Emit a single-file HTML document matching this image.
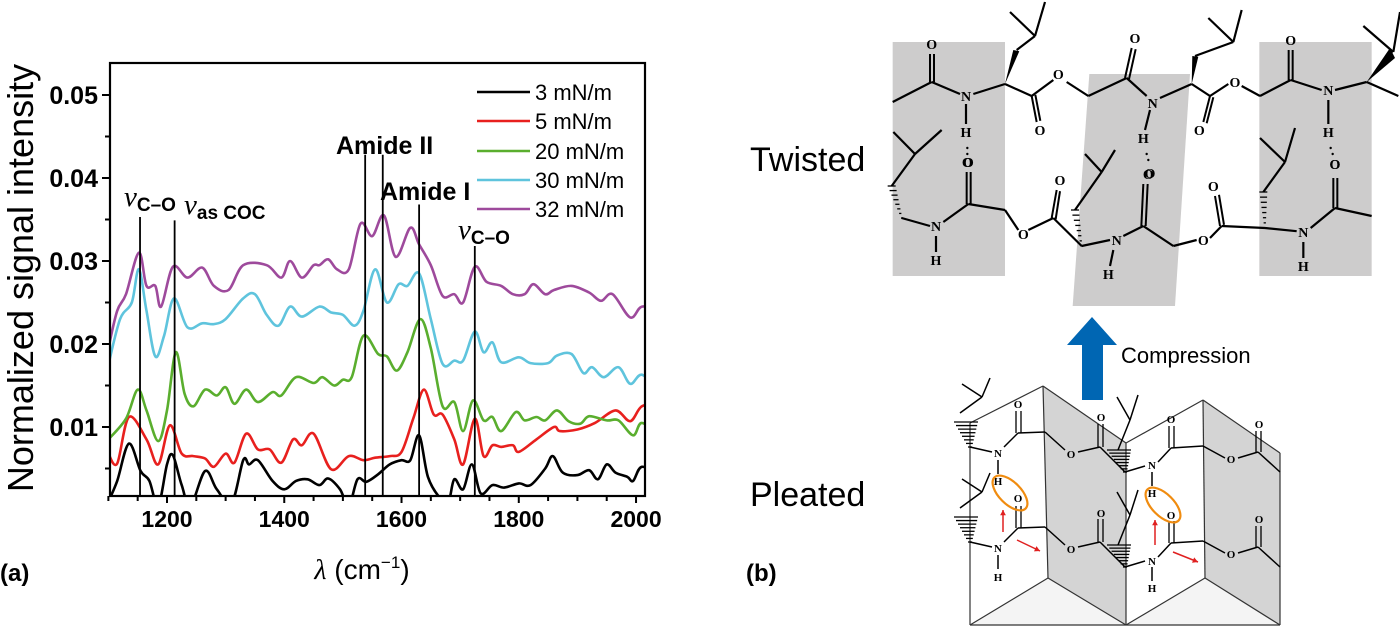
<!DOCTYPE html>
<html><head><meta charset="utf-8">
<style>
html,body{margin:0;padding:0;background:#fff;}
svg{display:block;font-family:"Liberation Sans",sans-serif;}
</style></head>
<body>
<svg id="fig" width="1400" height="627" viewBox="0 0 1400 627" xmlns="http://www.w3.org/2000/svg">
<defs><clipPath id="plotclip"><rect x="110" y="63" width="535" height="433"/></clipPath></defs>
<g id="chart"></g>
<g id="scheme"></g>
<text x="0" y="581" font-size="24" font-weight="bold">(a)</text>
<text x="746" y="581" font-size="24" font-weight="bold">(b)</text>
<text x="750" y="171" font-size="34">Twisted</text>
<text x="750" y="506" font-size="34">Pleated</text>
<text x="1121" y="363" font-size="22">Compression</text>
</svg>
<script>
// ---- chart data ----
const wn3=[1100,1115,1135,1155,1170,1185,1200,1210,1225,1240,1265,1285,1310,1330,1340,1355,1380,1400,1420,1440,1460,1475,1495,1510,1525,1540,1560,1580,1600,1615,1630,1645,1665,1680,1690,1705,1720,1735,1755,1775,1800,1820,1845,1858,1875,1900,1920,1935,1950,1965,1985,1995,2010,2040];
const val3=[0.001,0.0035,0.008,0.0047,0.0035,0.0005,0.0055,0.0066,0.003,0.0005,0.0047,0.0025,0.0008,0.006,0.0055,0.006,0.0035,0.0025,0.0035,0.0037,0.003,0.0038,0.0025,0.0005,0.0037,0.0034,0.0043,0.0055,0.006,0.006,0.009,0.004,0.0015,0.001,0.0037,0.0025,0.0055,0.002,0.003,0.0027,0.0032,0.003,0.005,0.0065,0.0045,0.0042,0.0048,0.0037,0.0055,0.0045,0.004,0.0035,0.0052,0.004];
const wn5=[1100,1115,1135,1165,1185,1205,1225,1245,1265,1280,1300,1315,1335,1355,1375,1395,1415,1430,1450,1480,1510,1535,1555,1580,1600,1620,1638,1655,1670,1690,1705,1725,1740,1755,1770,1790,1800,1830,1860,1870,1900,1930,1965,1990,2010,2040];
const val5=[0.0068,0.0056,0.0112,0.0085,0.0055,0.0102,0.0068,0.0065,0.0062,0.0052,0.0068,0.0057,0.0092,0.0073,0.0073,0.0057,0.0085,0.0078,0.0092,0.0049,0.0065,0.006,0.0063,0.0065,0.007,0.011,0.0145,0.0115,0.0115,0.0085,0.0055,0.011,0.0065,0.0078,0.0076,0.0078,0.007,0.0085,0.010,0.0095,0.0097,0.0105,0.012,0.0107,0.0125,0.0128];
const wn20=[1100,1130,1150,1165,1185,1200,1215,1230,1245,1265,1285,1300,1315,1335,1355,1380,1395,1420,1450,1465,1485,1500,1515,1535,1560,1575,1592,1610,1632,1650,1670,1690,1705,1722,1740,1755,1770,1795,1810,1830,1845,1865,1885,1905,1920,1950,1970,1995,2010,2040];
const val20=[0.0085,0.011,0.0145,0.012,0.0083,0.012,0.019,0.014,0.0125,0.0145,0.0138,0.0148,0.0128,0.0145,0.013,0.0142,0.0138,0.016,0.0153,0.016,0.015,0.0157,0.016,0.021,0.0188,0.0185,0.0168,0.019,0.023,0.0195,0.0125,0.013,0.0095,0.0132,0.0108,0.0112,0.0095,0.0118,0.0108,0.0112,0.0108,0.012,0.0107,0.0104,0.0113,0.0108,0.0108,0.009,0.0105,0.0088];
const wn30=[1100,1120,1140,1152,1165,1180,1195,1212,1235,1260,1280,1300,1330,1350,1370,1390,1410,1430,1460,1480,1500,1520,1535,1555,1575,1595,1610,1630,1650,1670,1690,1705,1725,1740,1755,1770,1800,1820,1850,1865,1890,1910,1925,1945,1970,1990,2010,2040];
const val30=[0.0175,0.023,0.025,0.029,0.024,0.0185,0.021,0.0255,0.022,0.0225,0.0224,0.023,0.0255,0.026,0.0235,0.0222,0.0245,0.0233,0.0245,0.0238,0.0235,0.0222,0.024,0.029,0.025,0.0272,0.027,0.0285,0.023,0.0176,0.018,0.018,0.0215,0.019,0.0202,0.0178,0.0184,0.0177,0.0177,0.0186,0.0188,0.0165,0.0172,0.016,0.0172,0.0152,0.0163,0.0145];
const wn32=[1100,1115,1130,1152,1165,1180,1190,1210,1235,1260,1280,1305,1330,1370,1395,1410,1430,1450,1460,1475,1490,1510,1530,1550,1570,1590,1615,1630,1650,1670,1690,1705,1725,1745,1770,1790,1810,1825,1845,1860,1890,1920,1940,1960,1990,2010,2040];
const val32=[0.0195,0.024,0.026,0.031,0.027,0.027,0.0245,0.0293,0.028,0.0292,0.027,0.0265,0.0295,0.0295,0.028,0.030,0.028,0.0295,0.0295,0.0302,0.029,0.029,0.0345,0.033,0.0355,0.0305,0.034,0.032,0.0295,0.0258,0.026,0.025,0.0293,0.0275,0.027,0.026,0.026,0.0272,0.026,0.0265,0.027,0.0262,0.0252,0.026,0.0232,0.0245,0.024];
const seriesNames=["3 mN/m","5 mN/m","20 mN/m","30 mN/m","32 mN/m"];
const xTicks=[1200,1400,1600,1800,2000];
const yTicks=[0.01,0.02,0.03,0.04,0.05];
const markerWn=[1154,1213,1538,1568,1630,1725];
const markerTop=[0.0353,0.0349,0.0428,0.0428,0.0368,0.0318];

const NS="http://www.w3.org/2000/svg";
const X0=110,X1=645,Y0=63,Y1=496;
function xs(v){return 167+(v-1200)*0.5863;}
function ys(v){return 427-(v-0.01)*8300;}
function mk(tag,attrs,parent,txt){const e=document.createElementNS(NS,tag);for(const k in attrs)e.setAttribute(k,attrs[k]);if(txt!==undefined)e.textContent=txt;parent.appendChild(e);return e;}
const chart=document.getElementById('chart');

function smooth(wn,val){
  const p=wn.map((w,i)=>[xs(w),ys(val[i])]);
  let d="M"+p[0][0].toFixed(1)+","+p[0][1].toFixed(1);
  for(let i=0;i<p.length-1;i++){
    const a=p[Math.max(0,i-1)],b=p[i],c=p[i+1],e=p[Math.min(p.length-1,i+2)];
    const c1=[b[0]+(c[0]-a[0])/6,b[1]+(c[1]-a[1])/6],c2=[c[0]-(e[0]-b[0])/6,c[1]-(e[1]-b[1])/6];
    d+="C"+c1[0].toFixed(1)+","+c1[1].toFixed(1)+" "+c2[0].toFixed(1)+","+c2[1].toFixed(1)+" "+c[0].toFixed(1)+","+c[1].toFixed(1);
  }
  return d;
}
const colors=["#000000","#e8201e","#5aae2e","#5fc4dd","#9e4a9c"];
const allWn=[wn3,wn5,wn20,wn30,wn32],allVal=[val3,val5,val20,val30,val32];
const lines=mk('g',{'clip-path':'url(#plotclip)'},chart);


for(let s=0;s<5;s++){
  const p=mk('path',{d:smooth(allWn[s],allVal[s]),fill:'none',stroke:colors[s],'stroke-width':2.6,'stroke-linejoin':'round'},lines);
  
  
}
for(let i=0;i<markerWn.length;i++){
  const l=mk('line',{x1:xs(markerWn[i]),x2:xs(markerWn[i]),y1:ys(markerTop[i]),y2:Y1,stroke:'#000','stroke-width':1.8},chart);
  
  
}
const fr=mk('rect',{x:X0,y:Y0,width:X1-X0,height:Y1-Y0,fill:'none',stroke:'#000','stroke-width':2.2},chart);


for(let v=1100;v<=2000;v+=50){
  const t=mk('line',{x1:xs(v),x2:xs(v),y1:Y1,y2:Y1+(v%200===0?7:5),stroke:'#000','stroke-width':2},chart);
  
  
}
xTicks.forEach(v=>{
  const t=mk('text',{x:xs(v),y:Y1+31,'font-size':23,'font-weight':'bold','text-anchor':'middle'},chart,String(v));
  
  
});
for(let k=1;k<=10;k++){
  const v=k*0.005;
  const t=mk('line',{x1:X0-(k%2===0?8:5),x2:X0,y1:ys(v),y2:ys(v),stroke:'#000','stroke-width':2},chart);
  
  
}
yTicks.forEach(v=>{
  const t=mk('text',{x:X0-12,y:ys(v)+9,'font-size':25,'font-weight':'bold','text-anchor':'end'},chart,v.toFixed(2));
  
  
});
const yt=mk('text',{x:0,y:0,'font-size':36,'text-anchor':'middle',transform:'translate(33,278) rotate(-90)'},chart,'Normalized signal intensity');


const xt=mk('text',{x:362,y:579,'font-size':28,'text-anchor':'middle'},chart);


mk('tspan',{'font-family':'Liberation Serif,serif','font-style':'italic'},xt,'λ');
mk('tspan',{},xt,' (cm');
mk('tspan',{'font-size':17,dy:-11},xt,'−1');
mk('tspan',{dy:11},xt,')');
const lg=mk('g',{},chart);


const lgY=[92,121,151,180,209];
for(let s=0;s<5;s++){
  const e=mk('g',{},lg);
  
  
  mk('line',{x1:477,x2:530,y1:lgY[s],y2:lgY[s],stroke:colors[s],'stroke-width':2.6},e);
  mk('text',{x:535,y:lgY[s]+8,'font-size':22},e,seriesNames[s]);
}
function ann(x,y,txt,name){const t=mk('text',{x:x,y:y,'font-size':25,'font-weight':'bold'},chart,txt);}
ann(336,154,'Amide II','amide-ii-label');
ann(380,200,'Amide I','amide-i-label');
function nu(x,y,sub,name){
  const t=mk('text',{x:x,y:y,'font-size':29},chart);
  
  
  mk('tspan',{'font-family':'Liberation Serif,serif','font-style':'italic'},t,'ν');
  mk('tspan',{'font-size':19,'font-weight':'bold',dy:5},t,sub);
}
nu(124,206,'C–O','nu-co-label-1');
nu(184,214,'as COC','nu-as-coc-label');
nu(458,239,'C–O','nu-co-label-2');

// ---- scheme (twisted) ----
const sc=document.getElementById('scheme');
function TX(x){return 880+x/3;} function TY(y){return y*0.4;}
const tw=mk('g',{},sc);


[[38,105,375,105,375,690,38,690],[628,185,930,185,885,765,578,765],[1138,105,1475,105,1475,690,1138,690]].forEach(r=>{
  const pts=[];for(let i=0;i<8;i+=2)pts.push(TX(r[i])+','+TY(r[i+1]));
  mk('polygon',{points:pts.join(' '),fill:'#cdcccc'},tw);
});
const twBonds=[[38,255,155,205],[155,205,240,235],[280,235,375,210],[375,210,455,240],[455,240,520,200],[560,205,625,240],[625,240,740,195],[740,195,800,240],[840,245,935,210],[935,210,990,240],[990,240,1045,210],[1085,215,1140,240],[1140,240,1232,200],[1232,200,1325,225],[1365,225,1460,205],[1460,205,1555,240],
[410,125,465,90],[465,90,390,30],[465,90,495,5],[945,140,1060,105],[1060,105,985,45],[1060,105,1085,25],[1450,65,1540,130],[1540,130,1560,30],
[258,260,258,310],[810,275,795,325],[1345,250,1345,310],
[105,385,40,330],[105,385,185,325],[105,385,35,465],[65,545,150,565],[190,555,265,510],[265,510,375,525],[375,525,415,575],[445,575,520,545],[520,545,605,615],[605,615,690,600],[730,590,790,565],[790,565,880,615],[880,615,950,600],[990,595,1025,565],[1025,565,1155,570],[1155,570,1250,578],[1292,570,1365,520],[1365,520,1475,540],
[665,430,615,385],[665,430,705,375],[665,430,585,525],[1215,405,1140,345],[1215,405,1245,320],[1215,405,1150,480],
[168,590,168,630],[700,625,690,665],[1270,605,1270,645]];
twBonds.forEach(b=>mk('line',{x1:TX(b[0]),y1:TY(b[1]),x2:TX(b[2]),y2:TY(b[3]),stroke:'#000','stroke-width':2.2},tw));
const twDouble=[[150,205,150,135],[162,205,162,135],[455,240,470,305],[466,237,481,302],[735,195,755,120],[747,198,767,123],[990,240,970,305],[1000,243,980,308],[1226,200,1226,125],[1238,200,1238,125],
[260,510,260,430],[272,510,272,430],[515,545,530,475],[527,548,540,478],[784,565,790,460],[797,565,803,460],[1020,565,1005,490],[1032,562,1017,487],[1360,520,1360,445],[1372,520,1372,445]];
twDouble.forEach(b=>mk('line',{x1:TX(b[0]),y1:TY(b[1]),x2:TX(b[2]),y2:TY(b[3]),stroke:'#000','stroke-width':2},tw));
function poly(arr,fill,parent){const pts=[];for(let i=0;i<arr.length;i+=2)pts.push(TX(arr[i]).toFixed(1)+','+TY(arr[i+1]).toFixed(1));return mk('polygon',{points:pts.join(' '),fill:fill},parent);}
poly([375,210,400,125,418,128],'#000',tw);
poly([935,210,937,140,955,142],'#000',tw);
poly([1460,205,1530,120,1545,145],'#000',tw);
function hashes(x1,y1,x2,y2,parent,tf){for(let i=0;i<=7;i++){const t=i/7,x=x1+(x2-x1)*t,y=y1+(y2-y1)*t,w=2+t*10;mk('line',{x1:tf(x-w,y,0),y1:tf(x-w,y,1),x2:tf(x+w,y,0),y2:tf(x+w,y,1),stroke:'#000','stroke-width':1.3},parent);}}
const tft=(x,y,k)=>k?TY(y):TX(x);
hashes(65,545,35,465,tw,tft);hashes(605,615,585,525,tw,tft);hashes(1155,570,1150,480,tw,tft);
[[262,370],[262,385],[800,385],[805,400],[1352,370],[1358,385]].forEach(p=>mk('circle',{cx:TX(p[0]),cy:TY(p[1]),r:1.2,fill:'#000'},tw));
const twLabels=[['O',155,110],['N',258,240],['H',258,330],['O',262,405],['O',480,325],['O',535,185],['O',765,95],['N',818,258],['H',790,345],['O',810,432],['O',958,325],['O',1065,205],['O',1232,100],['N',1345,225],['H',1345,330],['O',1365,410],
['N',168,565],['H',168,650],['O',265,405],['O',430,585],['O',540,450],['N',710,600],['H',685,685],['O',805,435],['O',970,600],['O',1000,465],['N',1270,580],['H',1270,665],['O',1365,410]];
twLabels.forEach(l=>{const t=mk('text',{x:TX(l[1]),y:TY(l[2])+5,'font-size':14,'font-family':'Liberation Serif,serif','text-anchor':'middle','font-weight':'bold'},tw,l[0]);});

const ar=mk('g',{},sc);


mk('polygon',{points:'1082,400 1103,400 1103,345 1117,345 1092,317 1067,345 1082,345',fill:'#0066b3'},ar);

// ---- pleated ----
const pl=mk('g',{},sc);


mk('polygon',{points:'1043,386 1126,443 1126,625 1048,578',fill:'#d4d4d4'},pl);
mk('polygon',{points:'1203,400 1280,453 1280,625 1205,578',fill:'#d4d4d4'},pl);
mk('polygon',{points:'970,625 1048,578 1126,625',fill:'#f4f4f4'},pl);
mk('polygon',{points:'1126,625 1205,578 1280,625',fill:'#f4f4f4'},pl);
const plOut=[[970,423,1043,386],[1043,386,1126,443],[1126,443,1203,400],[1203,400,1280,453],[970,423,970,625],[1043,386,1048,578],[1126,443,1126,625],[1203,400,1205,578],[1280,453,1280,625],[970,625,1048,578],[1048,578,1126,625],[1126,625,1205,578],[1205,578,1280,625],[970,625,1280,625]];
plOut.forEach(b=>mk('line',{x1:b[0],y1:b[1],x2:b[2],y2:b[3],stroke:'#333','stroke-width':1.2},pl));
const tfp=(x,y,k)=>k?y:x;
for(let r=0;r<2;r++){
  const dy=r*95;
  const bonds=[[970,447,992,452],[1004,447,1018,433],[1018,433,1045,432],[1045,432,1065,450],[1078,452,1100,447],[1100,447,1125,472],[1125,472,1145,466],[1158,462,1171,448],[1171,448,1203,446],[1203,446,1225,458],[1238,458,1258,452],[1258,452,1280,472],[998,460,998,474],[1152,472,1152,486]];
  bonds.forEach(b=>mk('line',{x1:b[0],y1:b[1]+dy,x2:b[2],y2:b[3]+dy,stroke:'#000','stroke-width':1.5},pl));
  [[1016,433,1016,411],[1021,433,1021,411],[1098,447,1098,424],[1103,447,1103,424],[1169,448,1169,426],[1174,448,1174,426],[1256,452,1256,431],[1261,452,1261,431]].forEach(b=>mk('line',{x1:b[0],y1:b[1]+dy,x2:b[2],y2:b[3]+dy,stroke:'#000','stroke-width':1.3},pl));
  [[960,413,982,397],[982,397,962,384],[982,397,990,378],[1118,450,1130,420],[1130,420,1117,397],[1130,420,1138,395]].forEach(b=>mk('line',{x1:b[0],y1:b[1]+dy,x2:b[2],y2:b[3]+dy,stroke:'#000','stroke-width':1.5},pl));
  hashes(970,447+dy,966,422+dy,pl,tfp);hashes(1125,472+dy,1119,450+dy,pl,tfp);
}
const plLabels=[['O',1018,404],['N',998,453],['H',998,481],['O',1018,498],['O',1101,417],['O',1071,454],['N',998,548],['H',998,577],['O',1101,513],['O',1071,549],['O',1171,419],['N',1152,465],['H',1152,493],['O',1171,515],['O',1259,424],['O',1231,459],['N',1152,561],['H',1152,588],['O',1259,519],['O',1231,554]];
plLabels.forEach(l=>{const t=mk('text',{x:l[1],y:l[2]+4,'font-size':11,'font-family':'Liberation Serif,serif','text-anchor':'middle','font-weight':'bold'},pl,l[0]);});
[[1010,493],[1163,505]].forEach(c=>{const e=mk('ellipse',{cx:c[0],cy:c[1],rx:22,ry:11,fill:'none',stroke:'#f08c10','stroke-width':2.2,transform:'rotate(45 '+c[0]+' '+c[1]+')'},pl);});
[[1003,532,1003,510],[1017,540,1040,551],[1155,545,1155,520],[1173,552,1198,562]].forEach(a=>{
  mk('line',{x1:a[0],y1:a[1],x2:a[2],y2:a[3],stroke:'#e02020','stroke-width':1.5},pl);
  const ang=Math.atan2(a[3]-a[1],a[2]-a[0]),L=6;
  const p1=[a[2]-L*Math.cos(ang-0.5),a[3]-L*Math.sin(ang-0.5)],p2=[a[2]-L*Math.cos(ang+0.5),a[3]-L*Math.sin(ang+0.5)];
  mk('polygon',{points:a[2]+','+a[3]+' '+p1.join(',')+' '+p2.join(','),fill:'#e02020'},pl);
});
</script>
</body></html>
